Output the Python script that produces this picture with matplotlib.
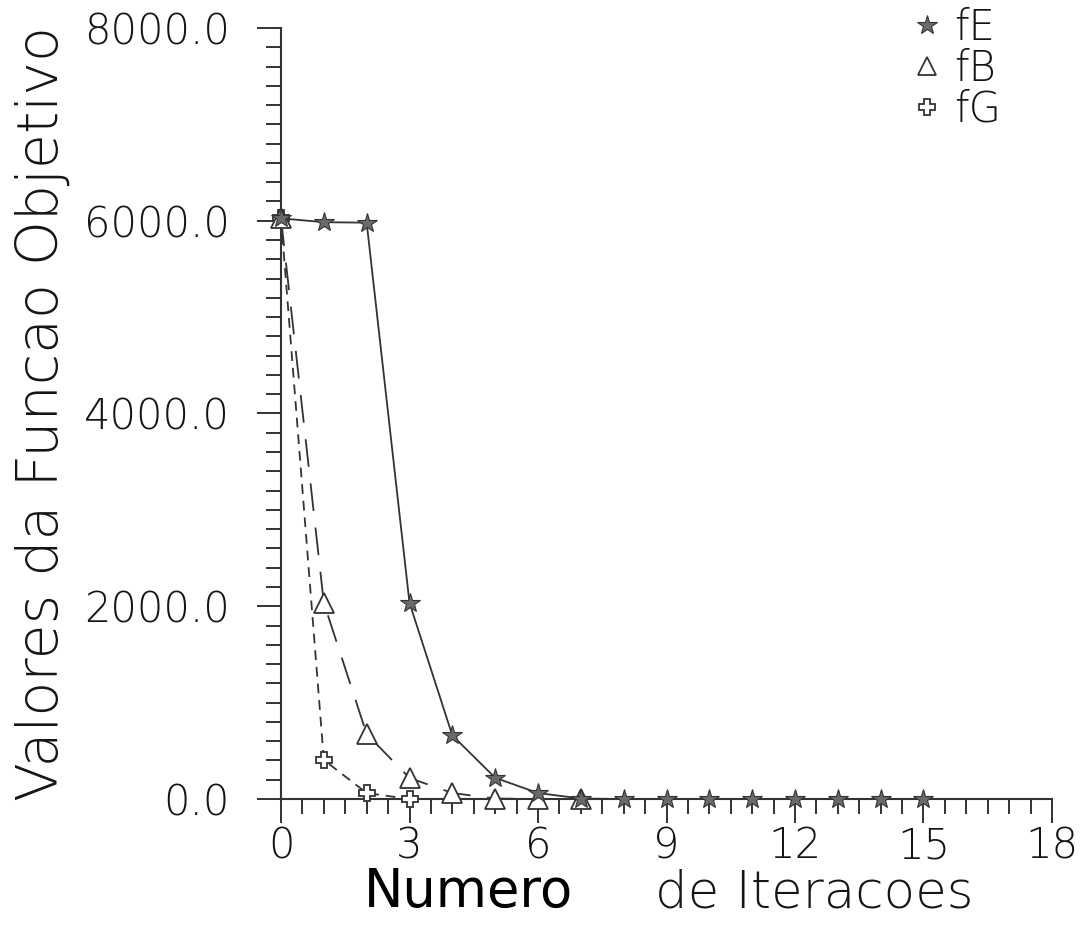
import matplotlib
matplotlib.use("Agg")
import matplotlib.pyplot as plt
from matplotlib.lines import Line2D
from matplotlib.ticker import MultipleLocator, FormatStrFormatter
import matplotlib.font_manager as fm

# ---- data ----
iter_E = [0, 1, 2, 3, 4, 5, 6, 7, 8, 9, 10, 11, 12, 13, 14, 15]
fE = [6025, 5985, 5980, 2035, 660, 220, 62, 5, 0, 0, 0, 0, 0, 0, 0, 0]
iter_B = [0, 1, 2, 3, 4, 5, 6, 7]
fB = [6025, 2035, 674, 218, 62, 5, 0, 0]
iter_G = [0, 1, 2, 3]
fG = [6025, 405, 62, 0]
series_labels = ["fE", "fB", "fG"]
xlabel_bold = "Numero"
xlabel_rest = "de Iteracoes"
ylabel = "Valores da Funcao Objetivo"

plt.rcParams['lines.scale_dashes'] = False
W, H = 1086, 925
fig = plt.figure(figsize=(W / 100, H / 100), dpi=100)
ax = fig.add_axes([281 / W, 1 - 799 / H, (1052 - 281) / W, (799 - 28) / H])

thin = fm.FontProperties(family="DejaVu Sans", weight="ultralight", size=30)
txtc = "#151515"
lc = "#333333"

ax.plot(iter_E, fE, color=lc, lw=1.3, ls="-", marker="*", ms=15,
        mfc="#6a6a6a", mec=lc, mew=0.8, label=series_labels[0], clip_on=False, zorder=5)
ax.plot(iter_B, fB, color=lc, lw=1.3, ls=(0, (20, 12)), marker="^", ms=14,
        mfc="white", mec=lc, mew=1.3, label=series_labels[1], clip_on=False, zorder=4)
ax.plot(iter_G, fG, color=lc, lw=1.3, ls=(0, (7, 5)), marker="P", ms=11,
        mfc="white", mec=lc, mew=1.3, label=series_labels[2], clip_on=False, zorder=3)

ax.set_xlim(0, 18)
ax.set_ylim(0, 8000)
for s in ["top", "right"]:
    ax.spines[s].set_visible(False)
for s in ["left", "bottom"]:
    ax.spines[s].set_linewidth(1.5)
    ax.spines[s].set_color(lc)

ax.xaxis.set_major_locator(MultipleLocator(3))
ax.xaxis.set_minor_locator(MultipleLocator(0.5))
ax.yaxis.set_major_locator(MultipleLocator(2000))
ax.yaxis.set_minor_locator(MultipleLocator(200))
ax.yaxis.set_major_formatter(FormatStrFormatter("%.1f"))

ax.tick_params(axis="x", which="major", direction="out", length=17, width=1.4, pad=2, color=lc)
ax.tick_params(axis="x", which="minor", direction="out", length=11, width=1.4, color=lc)
ax.tick_params(axis="y", which="major", direction="out", length=17, width=1.4, pad=20, color=lc)
ax.tick_params(axis="y", which="minor", direction="out", length=11, width=1.4, color=lc)
for lab in ax.get_xticklabels() + ax.get_yticklabels():
    lab.set_fontproperties(thin)
    lab.set_color(txtc)

# axis labels
fig.text(573 / W, 1 - 907 / H, xlabel_bold, ha="right", va="baseline",
         fontsize=38, family="DejaVu Sans", color="black")
fig.text(655 / W, 1 - 907 / H, xlabel_rest, ha="left", va="baseline",
         fontproperties=fm.FontProperties(family="DejaVu Sans", weight="ultralight", size=37),
         color=txtc)
fig.text(58 / W, 1 - 414 / H, ylabel, rotation=90, rotation_mode="anchor",
         ha="center", va="baseline",
         fontproperties=fm.FontProperties(family="DejaVu Sans", weight="ultralight", size=41),
         color=txtc)

handles = [
    Line2D([], [], ls="none", marker="*", ms=15, mfc="#6a6a6a", mec=lc, mew=0.8),
    Line2D([], [], ls="none", marker="^", ms=13, mfc="white", mec=lc, mew=1.3),
    Line2D([], [], ls="none", marker="P", ms=11, mfc="white", mec=lc, mew=1.3),
]
leg = ax.legend(handles, series_labels, loc="upper left",
                bbox_to_anchor=(910 / W, 1 - 7 / H), bbox_transform=fig.transFigure,
                frameon=False, borderpad=0, borderaxespad=0, handlelength=0.8,
                handletextpad=0.27, labelspacing=0.0, prop=thin)
for t in leg.get_texts():
    t.set_color(txtc)

fig.savefig("out.png", dpi=100)
